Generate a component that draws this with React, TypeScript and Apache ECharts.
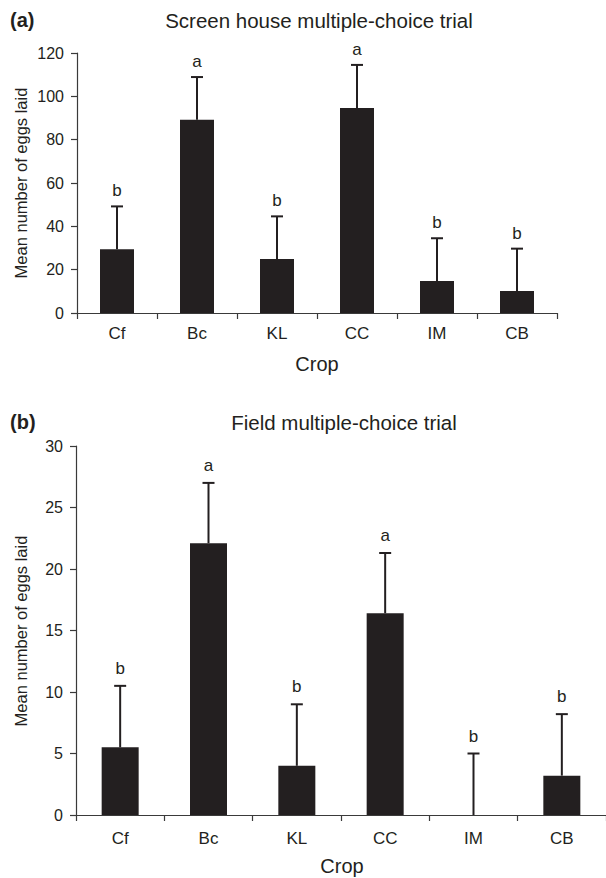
import React, { useEffect, useRef } from "react";
import * as echarts from "echarts";

const categories = ["Cf", "Bc", "KL", "CC", "IM", "CB"];

const screenMeans = [29.4, 89.2, 24.9, 94.6, 14.8, 10.2];
const screenErr = [19.8, 19.7, 19.7, 19.9, 19.7, 19.5];
const screenLetters = ["b", "a", "b", "a", "b", "b"];
const screenTicks = { min: 0, max: 120, interval: 20 };

const fieldMeans = [5.5, 22.1, 4.0, 16.4, 0, 3.2];
const fieldErr = [5.0, 4.9, 5.0, 4.9, 5.0, 5.0];
const fieldLetters = ["b", "a", "b", "a", "b", "b"];
const fieldTicks = { min: 0, max: 30, interval: 5 };

const INK = "#231f20";
const AXIS = "#3a3a3a";
const FONT = "'Liberation Sans', Arial, Helvetica, sans-serif";

export default function App() {
  const ref = useRef<HTMLDivElement>(null);

  useEffect(() => {
    document.body.style.margin = "0";
    const chart = echarts.init(ref.current!, undefined, { renderer: "svg" });

    const errSeries = (gridIdx: number, means: number[], errs: number[], letters: string[], gap: number) => ({
      type: "custom",
      xAxisIndex: gridIdx,
      yAxisIndex: gridIdx,
      data: means.map((m, i) => [i, m, m + errs[i]]),
      z: 5,
      renderItem: (params: any, api: any) => {
        const i = api.value(0);
        const low = api.coord([i, api.value(1)]);
        const high = api.coord([i, api.value(2)]);
        const half = 6;
        return {
          type: "group",
          children: [
            {
              type: "line",
              shape: { x1: low[0], y1: low[1], x2: high[0], y2: high[1] },
              style: { stroke: INK, lineWidth: 2 },
            },
            {
              type: "line",
              shape: { x1: high[0] - half, y1: high[1], x2: high[0] + half, y2: high[1] },
              style: { stroke: INK, lineWidth: 2 },
            },
            {
              type: "text",
              x: high[0],
              y: high[1] - gap,
              style: {
                text: letters[i],
                fill: INK,
                font: `17px ${FONT}`,
                align: "center",
                verticalAlign: "bottom",
              },
            },
          ],
        };
      },
    });

    const xAxisBase = (gridIdx: number, margin: number) => ({
      type: "category",
      gridIndex: gridIdx,
      data: categories,
      boundaryGap: true,
      axisLine: { lineStyle: { color: AXIS, width: 1.2 } },
      axisTick: { show: true, interval: 0, length: 6, lineStyle: { color: AXIS, width: 1.2 } },
      axisLabel: { color: INK, fontSize: 17, fontFamily: FONT, margin },
      splitLine: { show: false },
    });

    const yAxisBase = (gridIdx: number, t: { min: number; max: number; interval: number }) => ({
      type: "value",
      gridIndex: gridIdx,
      min: t.min,
      max: t.max,
      interval: t.interval,
      axisLine: { show: true, lineStyle: { color: AXIS, width: 1.2 } },
      axisTick: { show: true, length: 6, lineStyle: { color: AXIS, width: 1.2 } },
      axisLabel: { color: INK, fontSize: 16, fontFamily: FONT, margin: 13 },
      splitLine: { show: false },
    });

    const txt = (text: string, x: number, y: number, size: number, extra: any = {}) => ({
      type: "text",
      x,
      y,
      ...extra,
      style: {
        text,
        fill: INK,
        font: `${extra.bold ? "bold " : ""}${size}px ${FONT}`,
        align: extra.align || "center",
        verticalAlign: "middle",
      },
    });

    chart.setOption({
      animation: false,
      backgroundColor: "#ffffff",
      grid: [
        { left: 77, top: 53, width: 480, height: 260 },
        { left: 76, top: 446, width: 531, height: 369 },
      ],
      xAxis: [xAxisBase(0, 12), xAxisBase(1, 15)],
      yAxis: [yAxisBase(0, screenTicks), yAxisBase(1, fieldTicks)],
      series: [
        {
          type: "bar",
          xAxisIndex: 0,
          yAxisIndex: 0,
          data: screenMeans,
          barWidth: 34,
          itemStyle: { color: INK },
        },
        errSeries(0, screenMeans, screenErr, screenLetters, 7),
        {
          type: "bar",
          xAxisIndex: 1,
          yAxisIndex: 1,
          data: fieldMeans,
          barWidth: 37,
          itemStyle: { color: INK },
        },
        errSeries(1, fieldMeans, fieldErr, fieldLetters, 9),
      ],
      graphic: [
        txt("(a)", 10, 20, 20, { align: "left", bold: true }),
        txt("Screen house multiple-choice trial", 319, 20, 20.5),
        txt("Crop", 317, 364, 20),
        {
          ...txt("Mean number of eggs laid", 21, 183, 16.5),
          rotation: Math.PI / 2,
        },
        txt("(b)", 10, 422, 20, { align: "left", bold: true }),
        txt("Field multiple-choice trial", 344, 422, 20.5),
        txt("Crop", 342, 866, 20),
        {
          ...txt("Mean number of eggs laid", 21, 631, 16.5),
          rotation: Math.PI / 2,
        },
      ],
    });

    return () => chart.dispose();
  }, []);

  return <div ref={ref} style={{ width: 606, height: 878 }} />;
}
